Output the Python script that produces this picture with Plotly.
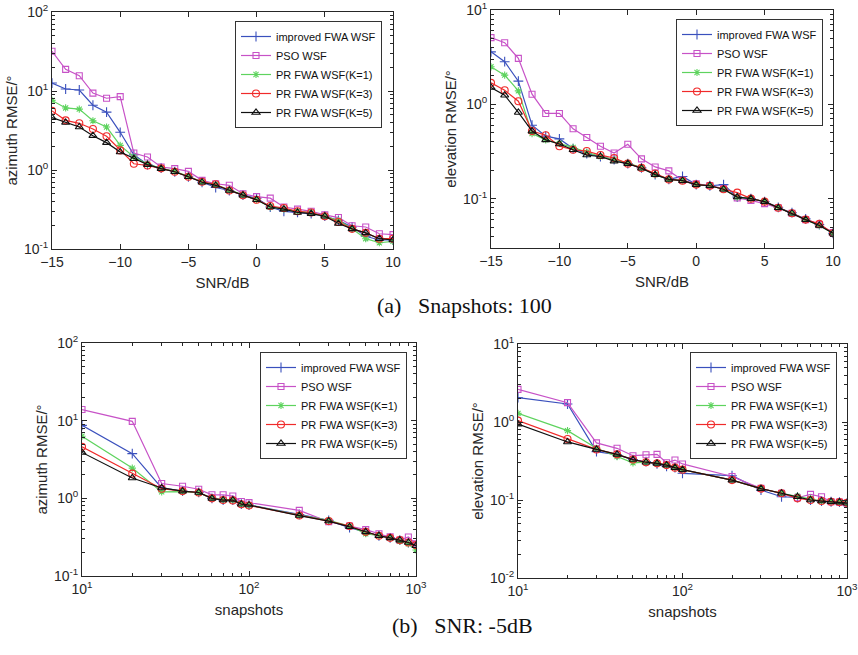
import plotly.graph_objects as go

# x values
snr = list(range(-15, 11))
snapshots = [10, 20, 30, 40, 50, 60, 70, 80, 90, 100, 200, 300, 400, 500, 600, 700, 800, 900, 1000]

# (a) snapshots = 100, RMSE vs SNR
az_snr_imp = [12.6, 10.6, 10.3, 6.6, 5.4, 3.0, 1.56, 1.17, 1.06, 0.95, 0.82, 0.70, 0.60, 0.55, 0.48, 0.44, 0.34, 0.30, 0.29, 0.28, 0.26, 0.23, 0.19, 0.145, 0.13, 0.13]
az_snr_pso = [31.8, 18.8, 15.6, 9.4, 8.1, 8.5, 1.64, 1.46, 1.09, 1.04, 0.96, 0.74, 0.67, 0.64, 0.50, 0.46, 0.44, 0.34, 0.32, 0.30, 0.27, 0.25, 0.197, 0.19, 0.156, 0.152]
az_snr_k1 = [7.6, 6.1, 5.9, 4.2, 3.5, 2.05, 1.46, 1.19, 1.05, 0.96, 0.83, 0.71, 0.65, 0.56, 0.48, 0.42, 0.34, 0.32, 0.30, 0.29, 0.26, 0.23, 0.18, 0.135, 0.12, 0.125]
az_snr_k3 = [5.6, 4.25, 3.9, 3.3, 2.67, 1.77, 1.2, 1.14, 1.05, 0.95, 0.82, 0.71, 0.66, 0.55, 0.48, 0.42, 0.35, 0.33, 0.30, 0.29, 0.26, 0.22, 0.18, 0.16, 0.135, 0.135]
az_snr_k5 = [4.6, 4.0, 3.5, 2.72, 2.22, 1.69, 1.39, 1.17, 1.04, 0.95, 0.82, 0.70, 0.64, 0.55, 0.48, 0.42, 0.34, 0.32, 0.29, 0.28, 0.26, 0.21, 0.18, 0.16, 0.135, 0.13]

el_snr_imp = [3.6, 2.83, 1.76, 0.60, 0.46, 0.43, 0.34, 0.30, 0.28, 0.26, 0.235, 0.212, 0.18, 0.16, 0.172, 0.141, 0.137, 0.141, 0.104, 0.100, 0.093, 0.081, 0.071, 0.061, 0.053, 0.043]
el_snr_pso = [5.1, 4.5, 3.07, 1.28, 0.80, 0.80, 0.55, 0.445, 0.36, 0.305, 0.377, 0.264, 0.217, 0.197, 0.157, 0.144, 0.138, 0.128, 0.102, 0.096, 0.0885, 0.080, 0.070, 0.060, 0.053, 0.0436]
el_snr_k1 = [2.5, 2.04, 1.39, 0.49, 0.42, 0.385, 0.35, 0.31, 0.28, 0.26, 0.24, 0.212, 0.18, 0.16, 0.155, 0.141, 0.137, 0.126, 0.104, 0.100, 0.093, 0.080, 0.070, 0.060, 0.052, 0.043]
el_snr_k3 = [1.69, 1.41, 1.08, 0.52, 0.47, 0.36, 0.33, 0.32, 0.29, 0.27, 0.235, 0.212, 0.185, 0.16, 0.155, 0.141, 0.137, 0.126, 0.116, 0.100, 0.093, 0.080, 0.070, 0.060, 0.054, 0.043]
el_snr_k5 = [1.51, 1.25, 0.82, 0.52, 0.42, 0.38, 0.33, 0.29, 0.28, 0.25, 0.235, 0.21, 0.18, 0.16, 0.155, 0.141, 0.137, 0.126, 0.104, 0.100, 0.093, 0.080, 0.070, 0.060, 0.052, 0.043]

# (b) SNR = -5dB, RMSE vs snapshots
az_snap_imp = [8.7, 3.76, 1.36, 1.24, 1.19, 1.0, 0.95, 0.95, 0.84, 0.82, 0.62, 0.52, 0.42, 0.37, 0.33, 0.31, 0.29, 0.27, 0.245]
az_snap_pso = [13.9, 9.8, 1.55, 1.43, 1.31, 1.11, 1.11, 1.07, 0.91, 0.88, 0.70, 0.50, 0.44, 0.395, 0.35, 0.32, 0.29, 0.318, 0.26]
az_snap_k1 = [6.3, 2.45, 1.21, 1.22, 1.18, 1.0, 0.96, 0.95, 0.85, 0.82, 0.61, 0.52, 0.44, 0.35, 0.33, 0.31, 0.28, 0.26, 0.216]
az_snap_k3 = [4.6, 2.08, 1.33, 1.24, 1.19, 1.0, 0.95, 0.94, 0.84, 0.81, 0.60, 0.51, 0.44, 0.37, 0.33, 0.31, 0.29, 0.27, 0.25]
az_snap_k5 = [3.9, 1.83, 1.36, 1.24, 1.19, 1.0, 0.95, 0.95, 0.84, 0.82, 0.60, 0.51, 0.43, 0.37, 0.33, 0.31, 0.29, 0.27, 0.245]

el_snap_imp = [2.05, 1.70, 0.417, 0.38, 0.33, 0.31, 0.29, 0.27, 0.26, 0.22, 0.205, 0.134, 0.11, 0.108, 0.10, 0.097, 0.095, 0.094, 0.091]
el_snap_pso = [2.62, 1.77, 0.54, 0.46, 0.37, 0.38, 0.385, 0.30, 0.325, 0.29, 0.20, 0.141, 0.122, 0.107, 0.118, 0.11, 0.095, 0.094, 0.091]
el_snap_k1 = [1.29, 0.775, 0.46, 0.36, 0.30, 0.305, 0.295, 0.28, 0.26, 0.245, 0.18, 0.14, 0.122, 0.112, 0.105, 0.097, 0.095, 0.094, 0.091]
el_snap_k3 = [1.04, 0.605, 0.445, 0.385, 0.33, 0.305, 0.295, 0.28, 0.26, 0.245, 0.18, 0.14, 0.122, 0.105, 0.10, 0.097, 0.095, 0.094, 0.092]
el_snap_k5 = [0.94, 0.555, 0.445, 0.385, 0.33, 0.305, 0.295, 0.28, 0.26, 0.245, 0.18, 0.14, 0.122, 0.11, 0.10, 0.097, 0.095, 0.094, 0.091]

names = ["improved FWA WSF", "PSO WSF", "PR FWA WSF(K=1)", "PR FWA WSF(K=3)", "PR FWA WSF(K=5)"]
colors = ["#3a50bd", "#c752c7", "#5ed35e", "#f02a2a", "#111111"]
symbols = ["cross-thin", "square-open", "asterisk", "circle-open", "triangle-up-open"]
msizes = [7, 6, 6, 7, 7]

W, H = 858, 655
def px_x(a, b):
    return [a / W, b / W]
def px_y(top, bottom):
    return [1 - bottom / H, 1 - top / H]

panels = [
    dict(x=snr, ys=[az_snr_imp, az_snr_pso, az_snr_k1, az_snr_k3, az_snr_k5],
         dx=px_x(52, 393), dy=px_y(12, 249), logx=False, yr=[-1, 2],
         ytitle="azimuth RMSE/°", xtitle="SNR/dB", leg=(382, 21)),
    dict(x=snr, ys=[el_snr_imp, el_snr_pso, el_snr_k1, el_snr_k3, el_snr_k5],
         dx=px_x(491, 833), dy=px_y(10, 248), logx=False, yr=[-1.523, 1],
         ytitle="elevation RMSE/°", xtitle="SNR/dB", leg=(823, 19)),
    dict(x=snapshots, ys=[az_snap_imp, az_snap_pso, az_snap_k1, az_snap_k3, az_snap_k5],
         dx=px_x(82, 416), dy=px_y(343, 576), logx=True, yr=[-1, 2],
         ytitle="azimuth RMSE/°", xtitle="snapshots", leg=(407, 352)),
    dict(x=snapshots, ys=[el_snap_imp, el_snap_pso, el_snap_k1, el_snap_k3, el_snap_k5],
         dx=px_x(518, 847), dy=px_y(344, 578), logx=True, yr=[-2, 1],
         ytitle="elevation RMSE/°", xtitle="snapshots", leg=(837, 352)),
]

fig = go.Figure()
tickfont = dict(family="Liberation Sans, Arial", size=14, color="#262626")
titlefont = dict(family="Liberation Sans, Arial", size=15, color="#262626")
layout = dict(width=W, height=H, margin=dict(l=0, r=0, t=0, b=0),
              paper_bgcolor="white", plot_bgcolor="white", showlegend=True)

for i, p in enumerate(panels):
    n = "" if i == 0 else str(i + 1)
    legname = "legend" + n
    for j in range(5):
        fig.add_trace(go.Scatter(
            x=p["x"], y=p["ys"][j], name=names[j], mode="lines+markers",
            xaxis="x" + n, yaxis="y" + n, legend=legname,
            line=dict(color=colors[j], width=1.2),
            marker=dict(symbol=symbols[j], size=msizes[j], color=colors[j],
                        line=dict(color=colors[j], width=1.1)),
        ))
    lo, hi = p["yr"]
    ydec = list(range(int(round(lo + 0.49)), int(hi) + 1))
    yminor = [m * 10 ** d for d in range(int(lo) - 1, int(hi) + 1) for m in range(2, 10)]
    yax = dict(domain=p["dy"], anchor="x" + n, type="log", range=[lo, hi], automargin=False,
               tickvals=[10 ** d for d in ydec],
               ticktext=["10<sup>%d</sup>" % d for d in ydec],
               ticks="inside", ticklen=5, tickcolor="#262626",
               minor=dict(ticks="inside", ticklen=3, tickvals=yminor, tickcolor="#262626"),
               showline=True, linecolor="#262626", linewidth=1, mirror="ticks",
               showgrid=False, zeroline=False, tickfont=tickfont, ticklabeloverflow="allow",
               title=dict(text=p["ytitle"], font=titlefont, standoff=2))
    if p["logx"]:
        xax = dict(type="log", range=[1, 3], tickvals=[10, 100, 1000],
                   ticktext=["10<sup>1</sup>", "10<sup>2</sup>", "10<sup>3</sup>"],
                   minor=dict(ticks="inside", ticklen=3, tickcolor="#262626",
                              tickvals=[m * 10 ** d for d in (1, 2) for m in range(2, 10)]))
    else:
        xax = dict(range=[-15, 10], tickvals=[-15, -10, -5, 0, 5, 10])
    xax.update(domain=p["dx"], anchor="y" + n, ticks="inside", ticklen=5, tickcolor="#262626",
               automargin=False, ticklabeloverflow="allow",
               showline=True, linecolor="#262626", linewidth=1, mirror="ticks",
               showgrid=False, zeroline=False, tickfont=tickfont,
               title=dict(text=p["xtitle"], font=titlefont, standoff=8))
    layout["xaxis" + n] = xax
    layout["yaxis" + n] = yax
    lx, ly = p["leg"]
    layout[legname] = dict(x=lx / W, y=1 - ly / H, xanchor="right", yanchor="top",
                           xref="paper", yref="paper",
                           bgcolor="white", bordercolor="#333333", borderwidth=1,
                           font=dict(family="Liberation Sans, Arial", size=11, color="#111111"),
                           tracegroupgap=0, itemwidth=30)

fig.update_layout(**layout)

caption_font = dict(family="Liberation Serif, Times New Roman", size=22, color="#111111")
fig.add_annotation(text="(a)   Snapshots: 100", x=464 / W, y=1 - 305 / H,
                   xref="paper", yref="paper", showarrow=False, font=caption_font)
fig.add_annotation(text="(b)   SNR: -5dB", x=462 / W, y=1 - 640 / H,
                   xref="paper", yref="paper", showarrow=False, font=caption_font)

# drop the browser's default body margin so the figure fills the window exactly
fig.write_html("out.html", config={"displayModeBar": False},
               post_script="document.body.style.margin='0';document.body.style.overflow='hidden';")
